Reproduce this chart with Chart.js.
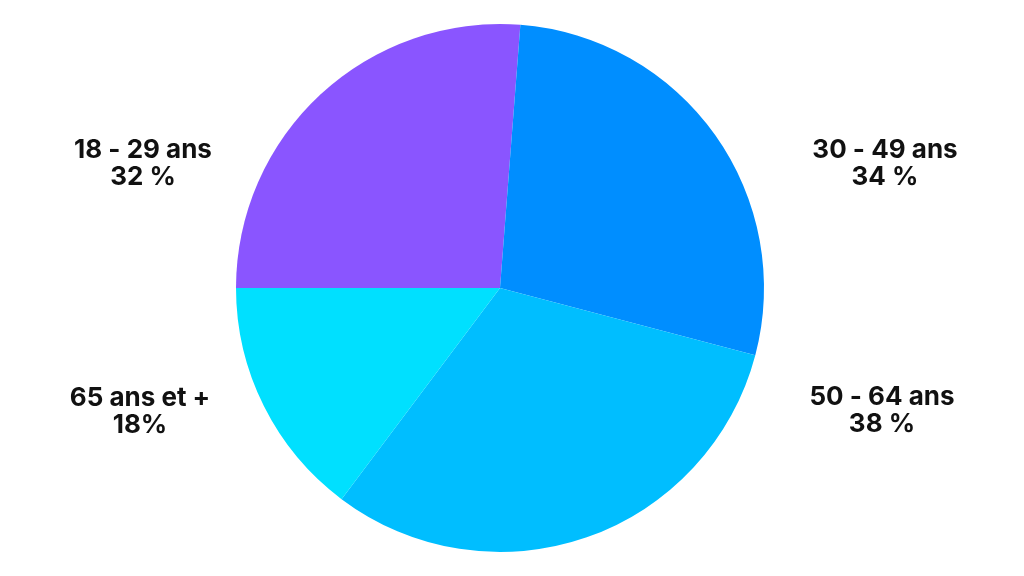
<!DOCTYPE html>
<html>
<head>
<meta charset="utf-8">
<script src="https://cdn.jsdelivr.net/npm/chart.js@4"></script>
<style>
html,body{margin:0;padding:0;background:#fff;}
#wrap{width:1024px;height:576px;position:relative;}
</style>
</head>
<body>
<div id="wrap"><canvas id="c" width="1024" height="576"></canvas></div>
<script>
const categories = ["18 - 29 ans", "30 - 49 ans", "50 - 64 ans", "65 ans et +"];
const values = [32, 34, 38, 18];
const valueLabels = ["32 %", "34 %", "38 %", "18%"];
const colors = ["#8A55FF", "#008EFF", "#00BEFF", "#00E0FF"];
// label anchor positions (layout only)
const labelPos = [[143, 150], [885, 150], [882, 397], [140, 398]];

const labelPlugin = {
  id: 'outerLabels',
  afterDraw(chart) {
    const ctx = chart.ctx;
    ctx.save();
    ctx.fillStyle = '#111';
    ctx.font = '700 26px Inter, "Open Sans", sans-serif';
    ctx.textAlign = 'center';
    ctx.textBaseline = 'middle';
    categories.forEach((c, i) => {
      const [x, y] = labelPos[i];
      ctx.fillText(c, x, y);
      ctx.fillText(valueLabels[i], x, y + 27);
    });
    ctx.restore();
  }
};

new Chart(document.getElementById('c'), {
  type: 'pie',
  data: {
    labels: categories,
    datasets: [{ data: values, backgroundColor: colors, borderWidth: 0 }]
  },
  options: {
    responsive: false,
    animation: false,
    rotation: -90,
    layout: { padding: { top: 24, bottom: 24, left: 236, right: 260 } },
    plugins: { legend: { display: false }, tooltip: { enabled: false } }
  },
  plugins: [labelPlugin]
});
</script>
</body>
</html>
